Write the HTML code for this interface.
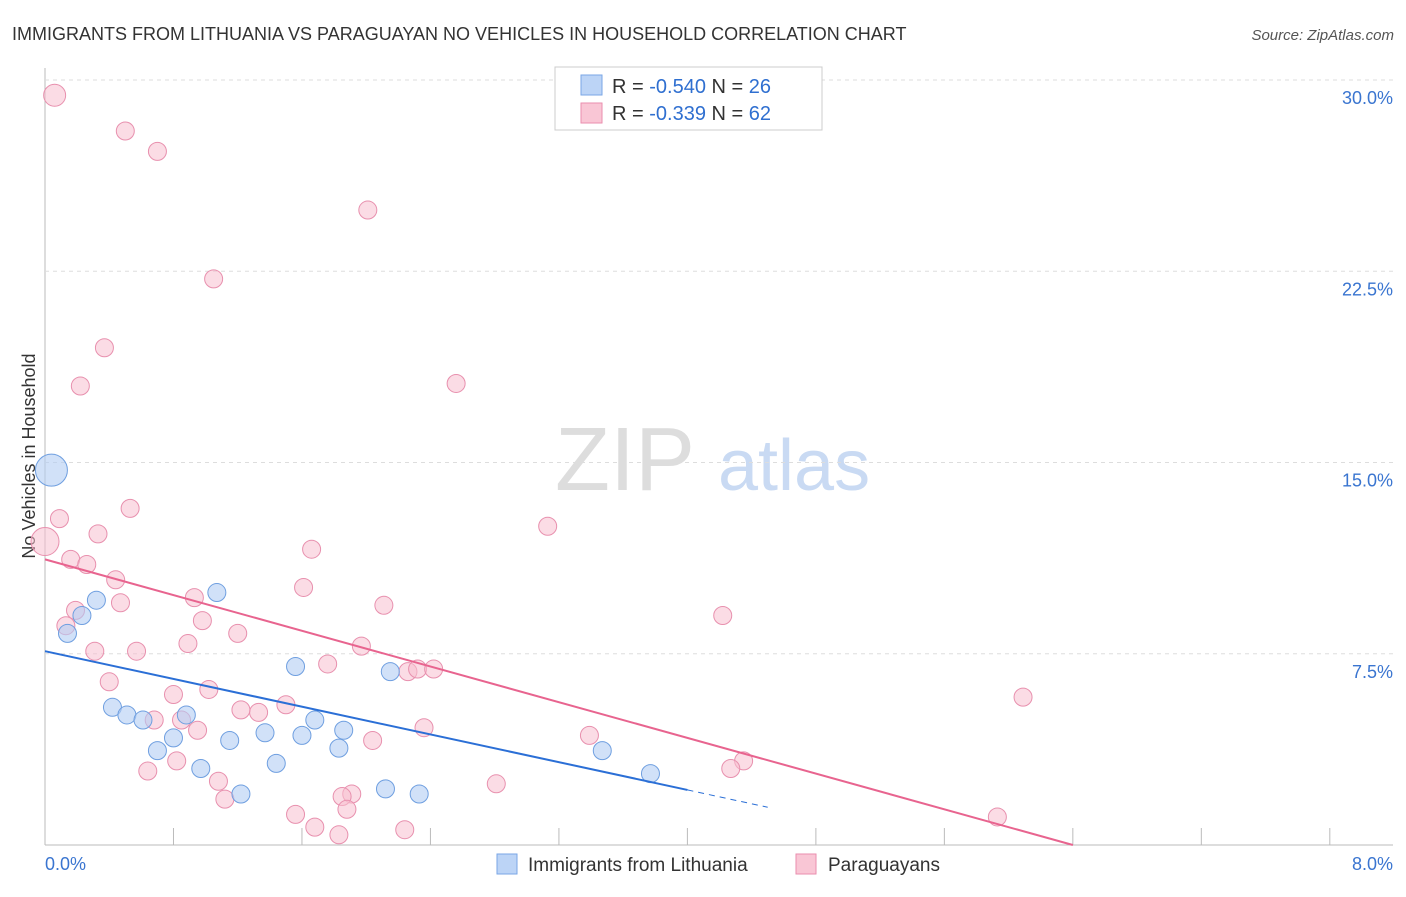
<!DOCTYPE html>
<html><head><meta charset="utf-8"><style>
body{margin:0;background:#fff;font-family:"Liberation Sans",sans-serif;}
svg text{font-family:"Liberation Sans",sans-serif;}
</style></head><body>
<svg id="c" width="1406" height="892">
<text x="12" y="40" font-size="18" fill="#333">IMMIGRANTS FROM LITHUANIA VS PARAGUAYAN NO VEHICLES IN HOUSEHOLD CORRELATION CHART</text>
<text x="1394" y="40" font-size="15" fill="#555" font-style="italic" text-anchor="end">Source: ZipAtlas.com</text>
<text x="35" y="456" font-size="18" fill="#333" text-anchor="middle" transform="rotate(-90 35 456)">No Vehicles in Household</text>
<text x="555" y="490" font-size="90" fill="#ddd" font-family="Liberation Serif">ZIP</text>
<text x="718" y="490" font-size="72" fill="#c9daf3">atlas</text>
<g id="grid"></g><g id="pts"></g><g id="lines"></g>
<g>
<rect x="555" y="67" width="267" height="63" fill="#fff" stroke="#ccc"/>
<rect x="581" y="75" width="21" height="20" fill="#bcd4f6" stroke="#7aa6e6"/>
<text x="612" y="93" font-size="20" fill="#333">R = <tspan fill="#2f6fd0">-0.540</tspan>   N = <tspan fill="#2f6fd0">26</tspan></text>
<rect x="581" y="103" width="21" height="20" fill="#f9c6d5" stroke="#ea8eae"/>
<text x="612" y="120" font-size="20" fill="#333">R =  <tspan fill="#2f6fd0">-0.339</tspan>   N = <tspan fill="#2f6fd0">62</tspan></text>
</g>
<g>
<rect x="497" y="854" width="20" height="20" fill="#bcd4f6" stroke="#7aa6e6"/>
<text x="528" y="871" font-size="19" fill="#333">Immigrants from Lithuania</text>
<rect x="796" y="854" width="20" height="20" fill="#f9c6d5" stroke="#ea8eae"/>
<text x="828" y="871" font-size="19" fill="#333">Paraguayans</text>
</g>
</svg>
<script>
const yTicks=[7.5,15,22.5,30];
const xTickLabels=["0.0%","8.0%"];
const blueX=[0.04,0.14,0.23,0.32,0.42,0.51,0.61,0.70,0.80,0.88,0.97,1.07,1.15,1.22,1.37,1.44,1.56,1.60,1.68,1.83,1.86,2.12,2.15,2.33,3.47,3.77];
const blueY=[14.7,8.3,9.0,9.6,5.4,5.1,4.9,3.7,4.2,5.1,3.0,9.9,4.1,2.0,4.4,3.2,7.0,4.3,4.9,3.8,4.5,2.2,6.8,2.0,3.7,2.8];
const blueR=[16,9,9,9,9,9,9,9,9,9,9,9,9,9,9,9,9,9,9,9,9,9,9,9,9,9];
const pinkX=[0.06,0.50,0.70,2.01,1.05,0.37,0.22,2.56,0.53,0.09,0.33,3.13,0.00,0.16,0.26,1.66,0.44,1.61,0.19,0.93,0.47,2.11,4.22,0.13,0.98,1.20,0.89,1.97,0.31,0.57,1.76,2.26,2.32,2.42,0.40,1.02,0.80,1.50,1.33,1.22,0.85,0.68,0.95,2.36,2.04,3.39,6.09,4.35,0.82,0.64,4.27,1.08,2.81,1.12,1.91,1.85,1.88,1.56,1.68,1.83,2.24,5.93];
const pinkY=[29.4,28.0,27.2,24.9,22.2,19.5,18.0,18.1,13.2,12.8,12.2,12.5,11.9,11.2,11.0,11.6,10.4,10.1,9.2,9.7,9.5,9.4,9.0,8.6,8.8,8.3,7.9,7.8,7.6,7.6,7.1,6.8,6.9,6.9,6.4,6.1,5.9,5.5,5.2,5.3,4.9,4.9,4.5,4.6,4.1,4.3,5.8,3.3,3.3,2.9,3.0,2.5,2.4,1.8,2.0,1.9,1.4,1.2,0.7,0.4,0.6,1.1];
const pinkR=[11,9,9,9,9,9,9,9,9,9,9,9,14,9,9,9,9,9,9,9,9,9,9,9,9,9,9,9,9,9,9,9,9,9,9,9,9,9,9,9,9,9,9,9,9,9,9,9,9,9,9,9,9,9,9,9,9,9,9,9,9,9];
const blueLine=[[0,7.6],[5.0,0.8]], blueSolidEnd=4.0;
const pinkLine=[[0,11.2],[6.4,0.0]];
const X=v=>45+v*160.6, Y=v=>845-v*25.5;
const NS="http://www.w3.org/2000/svg";
function mk(t,a,p){const e=document.createElementNS(NS,t);for(const k in a)e.setAttribute(k,a[k]);p.appendChild(e);return e;}
const g=document.getElementById('grid');
let ax=mk('line',{x1:45,y1:68,x2:45,y2:845,stroke:'#bbb'},g);


let bx=mk('line',{x1:45,y1:845,x2:1393,y2:845,stroke:'#bbb'},g);


yTicks.forEach(v=>{
 let l=mk('line',{x1:45,y1:Y(v),x2:1393,y2:Y(v),stroke:'#ddd','stroke-dasharray':'4,4'},g);
 
 
 let t=mk('text',{x:1393,y:Y(v)+24,'font-size':18,fill:'#3a75d0','text-anchor':'end'},g);
 t.textContent=v.toFixed(1)+'%';
 
 
});
for(let i=0;i<=10;i++){
 let l=mk('line',{x1:X(i*0.8),y1:828,x2:X(i*0.8),y2:845,stroke:'#bbb'},g);
 
 
}
let t0=mk('text',{x:45,y:870,'font-size':18,fill:'#3a75d0'},g);t0.textContent=xTickLabels[0];


let t1=mk('text',{x:1393,y:870,'font-size':18,fill:'#3a75d0','text-anchor':'end'},g);t1.textContent=xTickLabels[1];


const p=document.getElementById('pts');
pinkX.forEach((v,i)=>{
 let c=mk('circle',{cx:X(v),cy:Y(pinkY[i]),r:pinkR[i],fill:'#f7bfd0','fill-opacity':0.55,stroke:'#e890ae'},p);
 
 
});
blueX.forEach((v,i)=>{
 let c=mk('circle',{cx:X(v),cy:Y(blueY[i]),r:blueR[i],fill:'#b3cdf3','fill-opacity':0.6,stroke:'#6f9fe0'},p);
 
 
});
const L=document.getElementById('lines');
const by=x=>blueLine[0][1]+(blueLine[1][1]-blueLine[0][1])*(x-blueLine[0][0])/(blueLine[1][0]-blueLine[0][0]);
let b1=mk('line',{x1:X(0),y1:Y(by(0)),x2:X(blueSolidEnd),y2:Y(by(blueSolidEnd)),stroke:'#2b6fd6','stroke-width':2},L);


let b2=mk('line',{x1:X(blueSolidEnd),y1:Y(by(blueSolidEnd)),x2:X(4.5),y2:Y(by(4.5)),stroke:'#2b6fd6','stroke-width':1,'stroke-dasharray':'6,5'},L);


let pl=mk('line',{x1:X(pinkLine[0][0]),y1:Y(pinkLine[0][1]),x2:X(pinkLine[1][0]),y2:Y(pinkLine[1][1]),stroke:'#e8648f','stroke-width':2},L);


</script>
</body></html>
